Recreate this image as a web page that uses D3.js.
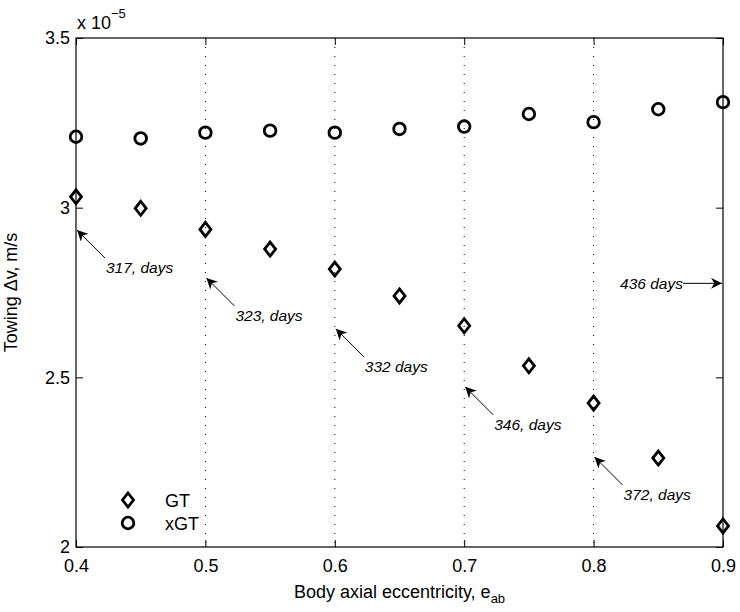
<!DOCTYPE html>
<html>
<head>
<meta charset="utf-8">
<script src="https://cdnjs.cloudflare.com/ajax/libs/d3/7.8.5/d3.min.js"></script>
<style>
  body { margin: 0; background: #fff; }
  text { font-family: "Liberation Sans", Arial, Helvetica, sans-serif; }
</style>
</head>
<body>
<div id="chart"></div>
<script>
// eccentricity values (x axis)
var ecc = [0.4, 0.45, 0.5, 0.55, 0.6, 0.65, 0.7, 0.75, 0.8, 0.85, 0.9];
// towing delta-v, units of 1e-5 m/s
var gtVals  = [3.032, 2.998, 2.936, 2.878, 2.819, 2.740, 2.652, 2.534, 2.424, 2.262, 2.062];
var xgtVals = [3.209, 3.204, 3.221, 3.227, 3.221, 3.232, 3.239, 3.276, 3.252, 3.290, 3.311];

var xTicks = [0.4, 0.5, 0.6, 0.7, 0.8, 0.9];
var yTicks = [2, 2.5, 3, 3.5];
var gridX = [0.5, 0.6, 0.7, 0.8];

// transfer-time annotations: label, eccentricity, value the arrow points at
var notes = [
  {label: "317, days", x: 0.4, y: 2.934},
  {label: "323, days", x: 0.5, y: 2.793},
  {label: "332 days",  x: 0.6, y: 2.643},
  {label: "346, days", x: 0.7, y: 2.472},
  {label: "372, days", x: 0.8, y: 2.265}
];
var sideNote = {label: "436 days", x: 0.9, y: 2.777};

var margin = {top: 38, right: 17, bottom: 65, left: 76},
  width = 740 - margin.left - margin.right,
  height = 612 - margin.top - margin.bottom;

var svg = d3.select("#chart").append("svg")
  .attr("width", 740)
  .attr("height", 612);

var g = svg.append("g")
  .attr("transform", "translate(" + margin.left + "," + margin.top + ")");

var x = d3.scaleLinear().domain([0.4, 0.9]).range([0, width]);
var y = d3.scaleLinear().domain([2, 3.5]).range([height, 0]);

svg.append("defs").append("marker")
  .attr("id", "ah")
  .attr("viewBox", "0 0 10 10")
  .attr("refX", 10).attr("refY", 5)
  .attr("markerWidth", 11).attr("markerHeight", 11)
  .attr("markerUnits", "userSpaceOnUse")
  .attr("orient", "auto")
  .append("path")
  .attr("d", "M0,0 L10,5 L0,10 L3,5 z")
  .attr("fill", "#000");

// dotted verticals
g.selectAll(".grid").data(gridX).enter().append("line")
  .attr("x1", d => x(d)).attr("x2", d => x(d))
  .attr("y1", 0).attr("y2", height)
  .attr("stroke", "#000")
  .attr("stroke-width", 1)
  .attr("stroke-dasharray", "1,8");

// axes
var tickFont = function(sel) {
  sel.selectAll("text").attr("font-size", "18px").attr("fill", "#000")
    .style("font-family", "Liberation Sans, Arial, sans-serif");
  sel.select(".domain").remove();
  sel.selectAll("line").attr("stroke", "#000");
};

g.append("g").attr("transform", "translate(0," + height + ")")
  .call(d3.axisBottom(x).tickValues(xTicks).tickSize(-7).tickPadding(12).tickFormat(d3.format(".1f")))
  .call(tickFont);
g.append("g")
  .call(d3.axisTop(x).tickValues(xTicks).tickSize(-7).tickFormat(""))
  .call(tickFont);
g.append("g")
  .call(d3.axisLeft(y).tickValues(yTicks).tickSize(-7).tickPadding(6).tickFormat(d => d3.format("")(d)))
  .call(tickFont);
g.append("g").attr("transform", "translate(" + width + ",0)")
  .call(d3.axisRight(y).tickValues(yTicks).tickSize(-7).tickFormat(""))
  .call(tickFont);

g.append("rect")
  .attr("width", width).attr("height", height)
  .attr("fill", "none").attr("stroke", "#000").attr("stroke-width", 1.2);

// exponent label
var ex = svg.append("text").attr("x", 77).attr("y", 29).attr("font-size", "18px");
ex.append("tspan").text("x 10");
ex.append("tspan").attr("dy", -11).attr("font-size", "13px").text("\u22125");

// markers
var diamond = "M0,-7 L5.5,0 L0,7 L-5.5,0 Z";
g.selectAll(".gt").data(ecc).enter().append("path")
  .attr("d", diamond)
  .attr("transform", (d, i) => "translate(" + x(d) + "," + y(gtVals[i]) + ")")
  .attr("fill", "none").attr("stroke", "#000").attr("stroke-width", 2.8);

g.selectAll(".xgt").data(ecc).enter().append("circle")
  .attr("cx", d => x(d)).attr("cy", (d, i) => y(xgtVals[i]))
  .attr("r", 5.8)
  .attr("fill", "none").attr("stroke", "#000").attr("stroke-width", 2.8);

// annotations
notes.forEach(function(n) {
  var px = x(n.x), py = y(n.y);
  g.append("line")
    .attr("x1", px + 29).attr("y1", py + 28)
    .attr("x2", px + 1).attr("y2", py)
    .attr("stroke", "#000").attr("stroke-width", 1)
    .attr("marker-end", "url(#ah)");
  g.append("text")
    .attr("x", px + 30).attr("y", py + 43)
    .attr("font-size", "15.5px").attr("font-style", "italic")
    .text(n.label);
});

(function() {
  var px = x(sideNote.x), py = y(sideNote.y);
  g.append("line")
    .attr("x1", px - 40).attr("y1", py)
    .attr("x2", px - 1).attr("y2", py)
    .attr("stroke", "#000").attr("stroke-width", 1)
    .attr("marker-end", "url(#ah)");
  g.append("text")
    .attr("x", px - 40).attr("y", py + 6)
    .attr("text-anchor", "end")
    .attr("font-size", "15.5px").attr("font-style", "italic")
    .text(sideNote.label);
})();

// legend
var leg = svg.append("g").attr("transform", "translate(128,500)");
leg.append("path").attr("d", diamond)
  .attr("fill", "none").attr("stroke", "#000").attr("stroke-width", 2.8);
leg.append("text").attr("x", 37).attr("y", 7).attr("font-size", "18px").text("GT");
leg.append("circle").attr("cy", 23).attr("r", 5.8)
  .attr("fill", "none").attr("stroke", "#000").attr("stroke-width", 2.8);
leg.append("text").attr("x", 37).attr("y", 30).attr("font-size", "18px").text("xGT");

// axis titles
var xt = svg.append("text")
  .attr("x", margin.left + width / 2).attr("y", 598)
  .attr("text-anchor", "middle").attr("font-size", "18px");
xt.append("tspan").text("Body axial eccentricity, e");
xt.append("tspan").attr("dy", 5).attr("font-size", "13px").text("ab");

svg.append("text")
  .attr("transform", "translate(17," + (margin.top + height / 2) + ") rotate(-90)")
  .attr("text-anchor", "middle").attr("font-size", "18px")
  .text("Towing \u0394v, m/s");
</script>
</body>
</html>
